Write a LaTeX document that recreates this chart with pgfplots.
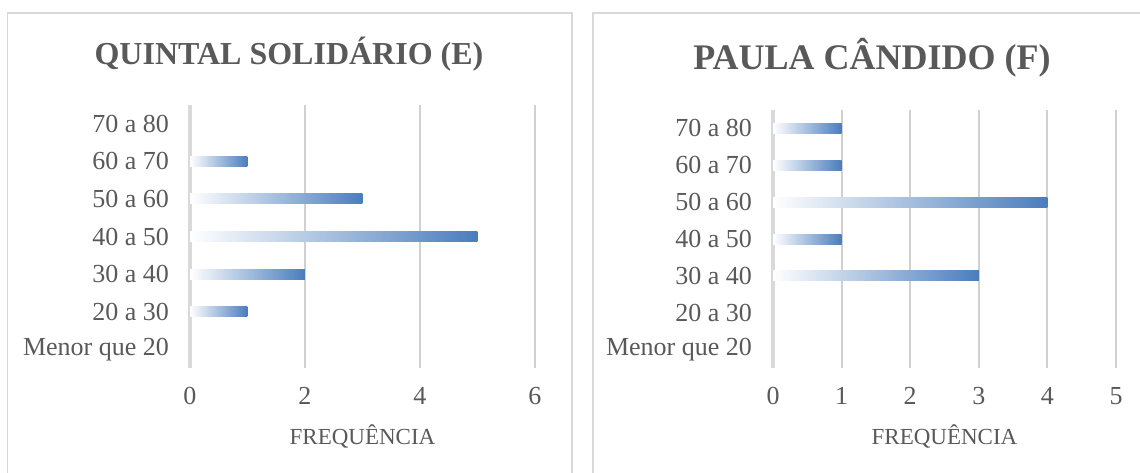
\documentclass[border=0pt]{standalone}
\usepackage{fontspec}
\setmainfont{Liberation Serif}
\usepackage{pgfplots}
\pgfplotsset{compat=1.18}
\definecolor{txt}{HTML}{595959}
\definecolor{gridc}{HTML}{D0D0D0}
\definecolor{axc}{HTML}{D9D9D9}
\definecolor{barR}{HTML}{4A7DBD}
\definecolor{barM}{HTML}{7A9CCD}
\pgfplotsset{panel/.style={
  scale only axis, anchor=south west,
  xbar, bar width=5pt, bar shift=0pt,
  ymin=-0.5, ymax=6.5,
  ytick={0,...,6},
  yticklabels={Menor que 20,20 a 30,30 a 40,40 a 50,50 a 60,60 a 70,70 a 80},
  axis line style={draw=none},
  major tick length=0pt,
  xmajorgrids, grid style={gridc, line width=1pt},
  extra x ticks={0}, extra x tick labels={},
  extra x tick style={grid style={axc, line width=2pt}},
  /pgf/number format/assume math mode=true,
  tick label style={font=\fontsize{13}{15}\selectfont, text=txt},
  xticklabel style={yshift=-6pt},
  yticklabel style={xshift=-7pt},
  xlabel={FREQUÊNCIA},
  xlabel style={font=\fontsize{11.5}{14}\selectfont, text=txt, at={(axis description cs:0.5,0)}, anchor=center, yshift=-34pt},
  xmin=0,
},
gbar/.style={draw=none, left color=white, middle color=barM, right color=barR}}
\begin{document}
\begin{tikzpicture}
\path[use as bounding box] (0,0) rectangle (570pt,236pt);
\clip (0,0) rectangle (570pt,236pt);
\draw[axc, line width=0.75pt] (3.75pt,229.5pt) rectangle (286pt,-9pt);
\draw[axc, line width=0.75pt] (296.5pt,229.5pt) rectangle (580pt,-9pt);
\node[font=\bfseries\fontsize{16}{19}\selectfont, text=txt, anchor=base] at (144.5pt,203.5pt) {QUINTAL SOLIDÁRIO (E)};
\node[font=\bfseries\fontsize{18}{21}\selectfont, text=txt, anchor=base] at (436pt,201pt) {PAULA CÂNDIDO (F)};
\begin{axis}[panel, at={(95pt,52pt)}, width=172.5pt, height=131.5pt, xmax=6, xtick={0,2,4,6}]
\addplot[gbar] coordinates {(1,1)};
\addplot[gbar] coordinates {(2,2)};
\addplot[gbar] coordinates {(5,3)};
\addplot[gbar] coordinates {(3,4)};
\addplot[gbar] coordinates {(1,5)};
\end{axis}
\begin{axis}[panel, at={(386.5pt,52pt)}, width=171.5pt, height=129pt, xmax=5, xtick={0,1,2,3,4,5}]
\addplot[gbar] coordinates {(3,2)};
\addplot[gbar] coordinates {(1,3)};
\addplot[gbar] coordinates {(4,4)};
\addplot[gbar] coordinates {(1,5)};
\addplot[gbar] coordinates {(1,6)};
\end{axis}
\end{tikzpicture}
\end{document}
